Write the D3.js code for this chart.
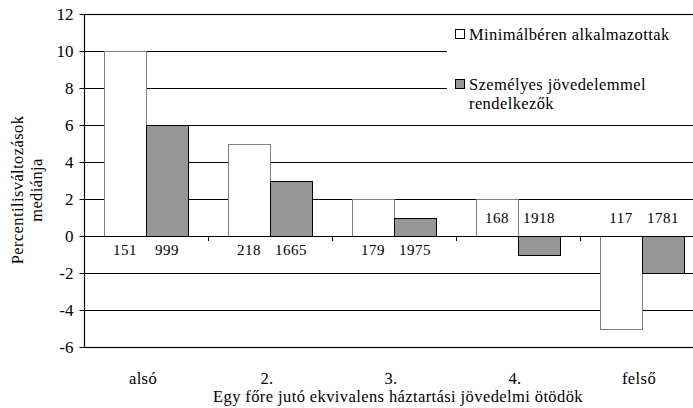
<!DOCTYPE html>
<html>
<head>
<meta charset="utf-8">
<script src="https://cdn.jsdelivr.net/npm/d3@7"></script>
<style>
  body { margin: 0; background: #fff; }
  svg { display: block; }
  svg text { font-family: 'Liberation Serif'; fill: #000; }
</style>
</head>
<body>
<svg width="693" height="408"></svg>
<script>
// data
const categories = ["alsó", "2.", "3.", "4.", "felső"];
const seriesNames = ["Minimálbéren alkalmazottak", "Személyes jövedelemmel rendelkezők"];
const minWage = [10, 5, 2, 2, -5];
const personalIncome = [6, 3, 1, -1, -2];
const countMinWage = [151, 218, 179, 168, 117];
const countPersonal = [999, 1665, 1975, 1918, 1781];
const yTicks = [-6, -4, -2, 0, 2, 4, 6, 8, 10, 12];

let svg = d3.select("svg");
const plotLeft = 84, plotRight = 704, plotTop = 14, plotBottom = 347;
const legendX = 447;
const serif = "'Liberation Serif'";

let x = d3.scaleBand().domain(categories).range([plotLeft, plotRight]);
let xInner = d3.scaleBand().domain([0, 1]).range([20, 104]);
let y = d3.scaleLinear().domain([-6, 12]).range([plotBottom, plotTop]);

const fills = ["#ffffff", "#969696"];
const strokes = ["#808080", "#000000"];

// gridlines
svg.append("g").selectAll("line")
    .data(yTicks.filter(d => d !== 0 && d !== -6 && d !== 12))
    .enter().append("line")
    .attr("x1", plotLeft)
    .attr("x2", d => d >= 8 ? legendX : plotRight)
    .attr("y1", d => Math.round(y(d)) + 0.5)
    .attr("y2", d => Math.round(y(d)) + 0.5)
    .attr("stroke", "#000")
    .attr("stroke-width", 1);

// frame
svg.append("rect")
    .attr("x", plotLeft + 0.5).attr("y", Math.round(y(12)) + 0.5)
    .attr("width", plotRight - plotLeft).attr("height", Math.round(y(-6)) - Math.round(y(12)))
    .attr("fill", "none").attr("stroke", "#000").attr("stroke-width", 1.2);

// bars
let rows = categories.map((c, i) => ({ c: c, vals: [minWage[i], personalIncome[i]], n: [countMinWage[i], countPersonal[i]] }));

let groups = svg.append("g").selectAll("g")
    .data(rows)
    .enter().append("g")
    .attr("transform", d => "translate(" + x(d.c) + ",0)");

groups.selectAll("rect")
    .data(d => d.vals.map((v, k) => ({ v: v, k: k })))
    .enter().append("rect")
    .attr("x", d => xInner(d.k) + 0.5)
    .attr("width", xInner.bandwidth())
    .attr("y", d => Math.round(y(Math.max(0, d.v))) + 0.5)
    .attr("height", d => Math.abs(Math.round(y(d.v)) - Math.round(y(0))))
    .attr("fill", d => fills[d.k])
    .attr("stroke", d => strokes[d.k])
    .attr("stroke-width", 1);

// zero axis with ticks between categories
svg.append("line")
    .attr("x1", plotLeft).attr("x2", plotRight)
    .attr("y1", Math.round(y(0)) + 0.5).attr("y2", Math.round(y(0)) + 0.5)
    .attr("stroke", "#000").attr("stroke-width", 1.2);
svg.append("g").selectAll("line")
    .data(categories.slice(1))
    .enter().append("line")
    .attr("x1", d => x(d) + 0.5).attr("x2", d => x(d) + 0.5)
    .attr("y1", Math.round(y(0))).attr("y2", Math.round(y(0)) + 5)
    .attr("stroke", "#000");

// count labels
groups.selectAll("text.count")
    .data(d => d.n.map((n, k) => ({ n: n, k: k, below: d.vals[1] > 0 })))
    .enter().append("text")
    .attr("class", "count")
    .attr("x", d => xInner(d.k) + xInner.bandwidth() / 2)
    .attr("y", d => d.below ? y(0) + 19 : y(0) - 13)
    .attr("text-anchor", "middle")
    .style("font-family", serif)
    .style("font-size", "15px")
    .style("letter-spacing", "0.5px")
    .text(d => d.n);

// y axis
let yAxis = svg.append("g")
    .attr("transform", "translate(" + (plotLeft + 0.5) + ",0)")
    .call(d3.axisLeft(y).tickValues(yTicks).tickSize(5).tickPadding(6).tickFormat(d => String(d)));
yAxis.select(".domain").remove();
yAxis.selectAll("line").attr("stroke", "#000");
yAxis.selectAll("text").style("font-size", "17px").style("font-family", serif).attr("fill", "#000");

// category labels
svg.append("g").selectAll("text")
    .data(categories)
    .enter().append("text")
    .attr("x", d => x(d) + x.bandwidth() / 2 - 3)
    .attr("y", 384)
    .attr("text-anchor", "middle")
    .style("font-family", serif)
    .style("font-size", "16.5px")
    .style("letter-spacing", "0.4px")
    .text(d => d);

// axis titles
svg.append("text")
    .attr("x", 398).attr("y", 402)
    .attr("text-anchor", "middle")
    .style("font-family", serif)
    .style("font-size", "16.5px")
    .style("letter-spacing", "0.4px")
    .text("Egy főre jutó ekvivalens háztartási jövedelmi ötödök");

let yTitle = svg.append("text")
    .attr("transform", "translate(23,190) rotate(-90)")
    .attr("text-anchor", "middle")
    .style("font-family", serif)
    .style("font-size", "16.5px")
    .style("letter-spacing", "0.4px");
yTitle.append("tspan").attr("x", 0).attr("dy", 0).text("Percentilisváltozások");
yTitle.append("tspan").attr("x", 0).attr("dy", 19).text("mediánja");

// legend
let legend = svg.append("g").style("font-family", serif).style("font-size", "16.5px").style("letter-spacing", "0.4px");
legend.append("rect").attr("x", 455.5).attr("y", 29.5).attr("width", 9).attr("height", 9)
    .attr("fill", fills[0]).attr("stroke", "#000");
legend.append("text").attr("x", 469).attr("y", 40).text(seriesNames[0]);
legend.append("rect").attr("x", 455.5).attr("y", 79.5).attr("width", 9).attr("height", 9)
    .attr("fill", fills[1]).attr("stroke", "#000");
let lt = legend.append("text").attr("x", 469).attr("y", 90);
lt.append("tspan").attr("x", 469).text("Személyes jövedelemmel");
lt.append("tspan").attr("x", 469).attr("dy", 19).text("rendelkezők");
</script>
</body>
</html>
